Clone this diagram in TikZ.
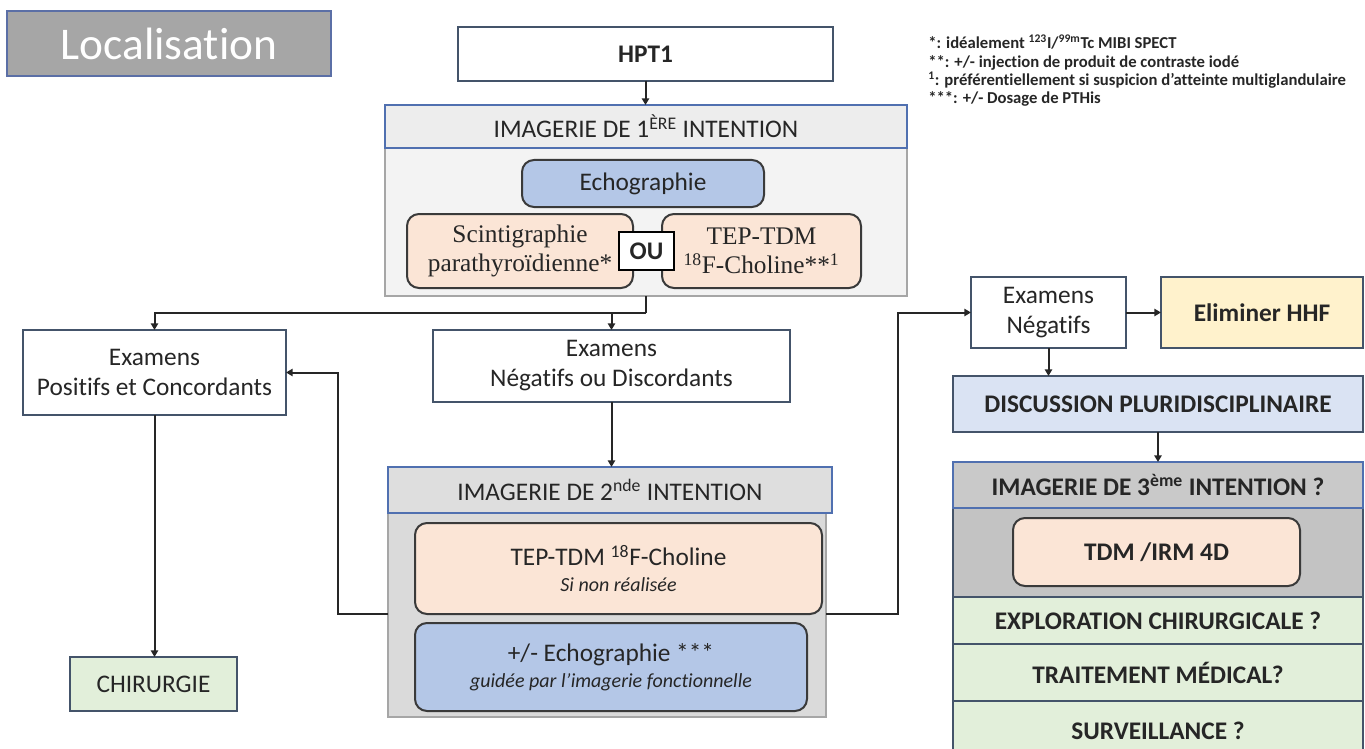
\documentclass[tikz,border=0pt]{standalone}
\usepackage{fontspec}
\setmainfont{Carlito}[Ligatures=NoCommon]
\newfontfamily\serifface{Liberation Serif}
\usetikzlibrary{arrows.meta}

\definecolor{txt}{HTML}{262626}
\definecolor{edge}{HTML}{44546A}
\definecolor{dark}{HTML}{3A3A3A}
\definecolor{hdedge}{HTML}{5070B0}
\definecolor{bodyedge}{HTML}{A6A6A6}
\definecolor{line}{HTML}{262626}
\definecolor{locfill}{HTML}{A6A6A6}
\definecolor{locedge}{HTML}{5B6FA6}
\definecolor{firsthead}{HTML}{EDEDED}
\definecolor{firstbody}{HTML}{F3F3F3}
\definecolor{secondhead}{HTML}{DEDEDE}
\definecolor{secondbody}{HTML}{DADADA}
\definecolor{thirdhead}{HTML}{C9C9C9}
\definecolor{thirdbody}{HTML}{C3C3C3}
\definecolor{echofill}{HTML}{B4C7E7}
\definecolor{peach}{HTML}{FBE5D6}
\definecolor{greenfill}{HTML}{E2EFDA}
\definecolor{yellowfill}{HTML}{FFF2CC}
\definecolor{discfill}{HTML}{DAE3F3}

\tikzset{
  sz/.style 2 args={minimum width=#1*0.75pt, minimum height=#2*0.75pt},
  base/.style={inner sep=0pt, outer sep=0pt, align=center, text=txt,
    font=\fontsize{19}{22.5}\selectfont},
  boldtext/.style={font=\fontsize{19}{22.5}\selectfont\bfseries},
  plainbox/.style={base, draw=edge, line width=1.5pt, fill=white},
  softbox/.style={base, draw=dark, line width=1.5pt, rounded corners=9pt},
  headbox/.style={base, draw=hdedge, line width=1.5pt},
  bodybox/.style={draw=bodyedge, line width=1.5pt, inner sep=0pt, outer sep=0pt},
  rowbox/.style={base, boldtext, draw=edge, line width=1.5pt, fill=greenfill},
  link/.style={draw=line, line width=1.5pt},
  arr/.style={link, -{Triangle[length=5pt,width=5.5pt]}},
}

\begin{document}
\begin{tikzpicture}[x=0.75pt,y=-0.75pt]
\useasboundingbox (0,0) rectangle (1365,749);

% title tag
\node[plainbox, fill=locfill, draw=locedge, sz={324}{65}, text=white,
  font=\fontsize{34}{40}\selectfont] (loc) at (169,43.5) {Localisation};

% footnotes
\node[anchor=north west, inner sep=0pt, align=left, text=txt,
  font=\fontsize{12.5}{13.8}\selectfont\bfseries] (notes) at (928,35)
  {*: idéalement \textsuperscript{123}I/\textsuperscript{99m}Tc MIBI SPECT\\
   **: +/- injection de produit de contraste iodé\\
   \textsuperscript{1}: préférentiellement si suspicion d’atteinte multiglandulaire\\
   ***: +/- Dosage de PTHis};

% entry
\node[plainbox, boldtext, sz={375}{54}] (hpt) at (645.5,54) {HPT1};

% first-line imaging
\node[bodybox, fill=firstbody, sz={522}{191}] (im1b) at (646,200.5) {};
\node[headbox, fill=firsthead, sz={522}{43}] (im1h) at (646,126.5)
  {IMAGERIE DE 1\textsuperscript{ÈRE} INTENTION};
\node[softbox, fill=echofill, sz={242}{47}] (echo1) at (643,183.5) {Echographie};
\node[softbox, fill=peach, sz={226}{74}, font=\serifface\fontsize{19}{22}\selectfont]
  (scin) at (520,251) {Scintigraphie\\parathyroïdienne*};
\node[softbox, fill=peach, sz={199}{74}, font=\serifface\fontsize{19}{22}\selectfont]
  (tep1) at (761.5,251) {TEP-TDM\\\textsuperscript{18}F-Choline**\textsuperscript{1}};
\node[base, boldtext, draw=black, fill=white, line width=1.5pt, sz={55}{38}]
  (ou) at (646.5,251) {OU};

% results of first-line imaging
\coordinate (j) at (646,313);
\node[plainbox, sz={263}{85}] (pos) at (154.5,372.5) {Examens\\Positifs et Concordants};
\node[plainbox, sz={357}{72}] (negd) at (611.5,366) {Examens\\Négatifs ou Discordants};
\node[plainbox, fill=greenfill, sz={167}{54}] (chir) at (153.5,684) {CHIRURGIE};

% second-line imaging
\node[bodybox, fill=secondbody, sz={438}{250}] (im2b) at (607,592) {};
\node[headbox, fill=secondhead, sz={444}{46}] (im2h) at (610,490)
  {IMAGERIE DE 2\textsuperscript{nde} INTENTION};
\node[softbox, fill=peach, sz={407}{91}] (tep2) at (618.5,568.5)
  {TEP-TDM \textsuperscript{18}F-Choline\\[-3pt]
   {\fontsize{15}{18}\selectfont\itshape Si non réalisée}};
\node[softbox, fill=echofill, sz={392}{88}] (echo2) at (611,667)
  {+/- Echographie ***\\[-3pt]
   {\fontsize{15}{18}\selectfont\itshape guidée par l’imagerie fonctionnelle}};
\coordinate (lc) at (338,614);
\coordinate (rc) at (898,614);

% negative branch
\node[plainbox, sz={155}{71}] (nega) at (1048.5,312.5) {Examens\\Négatifs};
\node[plainbox, boldtext, fill=yellowfill, sz={202}{71}] (hhf) at (1262,312.5) {Eliminer HHF};
\node[plainbox, boldtext, fill=discfill, sz={410}{56}] (disc) at (1158,404)
  {DISCUSSION PLURIDISCIPLINAIRE};
\node[bodybox, draw=edge, fill=thirdbody, sz={410}{135}] (im3b) at (1158,529.5) {};
\node[headbox, boldtext, fill=thirdhead, sz={410}{46}] (im3h) at (1158,485)
  {IMAGERIE DE 3\textsuperscript{ème} INTENTION ?};
\node[softbox, boldtext, fill=peach, sz={287}{68}] (tdm) at (1156.5,552) {TDM /IRM 4D};
\node[rowbox, sz={410}{47}] (explo) at (1158,620.5) {EXPLORATION CHIRURGICALE ?};
\node[rowbox, sz={410}{57}] (trait) at (1158,672.5) {TRAITEMENT MÉDICAL?};
\node[rowbox, sz={410}{59}] (surv) at (1158,730.5) {SURVEILLANCE ?};

% connectors
\draw[arr] (hpt.south) -- (hpt.south |- im1h.north);
\draw[link] (im1b.south) -- (j);
\draw[arr] (j) -| (pos.north);
\draw[arr] (j -| negd.north) -- (negd.north);
\draw[arr] (pos.south) -- (pos.south |- chir.north);
\draw[arr] (negd.south) -- (negd.south |- im2h.north);
\draw[arr] (im2b.west |- lc) -- (lc) |- (pos.east);
\draw[arr] (im2b.east |- rc) -- (rc) |- (nega.west);
\draw[arr] (nega.east) -- (hhf.west);
\draw[arr] (nega.south) -- (nega.south |- disc.north);
\draw[arr] (disc.south) -- (im3h.north);
\end{tikzpicture}
\end{document}
